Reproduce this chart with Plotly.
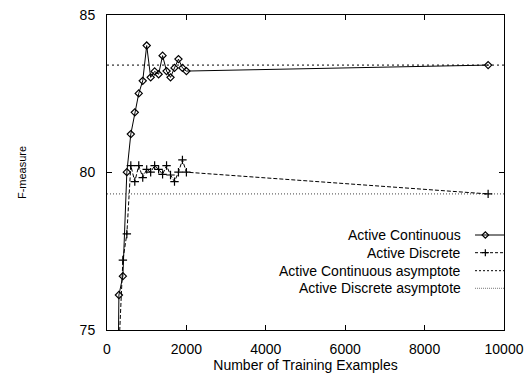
import plotly.graph_objects as go

# ---- data ----
cont_x = [200, 300, 400, 500, 600, 700, 800, 900, 1000, 1100, 1200, 1300, 1400,
          1500, 1600, 1700, 1800, 1900, 2000, 9600]
cont_y = [65.0, 76.11, 76.71, 80.01, 81.22, 81.91, 82.51, 82.91, 84.03, 83.02, 83.21,
          83.12, 83.71, 83.22, 83.02, 83.32, 83.60, 83.32, 83.22, 83.41]

disc_x = [300, 400, 500, 600, 700, 800, 900, 1000, 1100, 1200, 1300, 1400,
          1500, 1600, 1700, 1800, 1900, 2000, 9600]
disc_y = [74.4, 77.22, 78.05, 80.22, 79.71, 80.22, 79.84, 80.10, 80.01, 80.22, 80.10,
          79.94, 80.22, 79.92, 79.71, 80.01, 80.40, 80.01, 79.32]

asym_x = [0, 10000]
cont_asym = 83.41
disc_asym = 79.32

legend_labels = ["Active Continuous", "Active Discrete",
                 "Active Continuous asymptote", "Active Discrete asymptote"]

x_ticks = [0, 2000, 4000, 6000, 8000, 10000]
y_ticks = [75, 80, 85]

FONT = "Liberation Sans, Arial, Helvetica, sans-serif"

fig = go.Figure()

fig.add_trace(go.Scatter(x=asym_x, y=[cont_asym] * 2, mode="lines",
                         line=dict(color="black", width=1, dash="2px,3px"),
                         showlegend=False, hoverinfo="skip"))
fig.add_trace(go.Scatter(x=asym_x, y=[disc_asym] * 2, mode="lines",
                         line=dict(color="#444", width=1, dash="1px,2px"),
                         showlegend=False, hoverinfo="skip"))
fig.add_trace(go.Scatter(x=cont_x, y=cont_y, mode="lines+markers",
                         line=dict(color="black", width=1),
                         marker=dict(symbol="diamond-open", size=5.5, color="black",
                                     line=dict(width=1.2, color="black")),
                         showlegend=False))
fig.add_trace(go.Scatter(x=disc_x, y=disc_y, mode="lines+markers",
                         line=dict(color="black", width=1, dash="4px,2px"),
                         marker=dict(symbol="cross-thin-open", size=6, color="black",
                                     line=dict(width=1.2, color="black")),
                         showlegend=False))

# ---- manual gnuplot-style legend (text left, sample right) ----
rows_y = [0.3016, 0.2454, 0.1883, 0.1324]
styles = [
    dict(color="black", width=1),
    dict(color="black", width=1, dash="3px,2px"),
    dict(color="black", width=1, dash="2px,2px"),
    dict(color="#777", width=1, dash="1px,1px"),
]
markers = [
    dict(symbol="diamond-open", size=5, color="black", line=dict(width=1.2, color="black")),
    dict(symbol="cross-thin-open", size=5, color="black", line=dict(width=1.2, color="black")),
    None, None,
]
for lab, ry, st, mk in zip(legend_labels, rows_y, styles, markers):
    fig.add_annotation(x=0.897, y=ry, xref="paper", yref="paper", text=lab,
                       showarrow=False, xanchor="right", yanchor="middle",
                       font=dict(family=FONT, size=14, color="black"))
    fig.add_trace(go.Scatter(x=[0.927, 1.0], y=[ry, ry], mode="lines", line=st,
                             xaxis="x2", yaxis="y2", showlegend=False,
                             hoverinfo="skip", cliponaxis=False))
    if mk is not None:
        fig.add_trace(go.Scatter(x=[0.953], y=[ry], mode="markers", marker=mk,
                                 xaxis="x2", yaxis="y2", showlegend=False,
                                 hoverinfo="skip", cliponaxis=False))

axis_common = dict(showline=True, linecolor="black", linewidth=1, mirror="ticks",
                   ticks="inside", ticklen=5, tickcolor="black", tickwidth=1,
                   showgrid=False, zeroline=False, automargin=False,
                   tickfont=dict(family=FONT, size=14, color="black"))

fig.update_layout(
    width=532, height=378,
    margin=dict(l=107, r=28, t=15, b=48),
    paper_bgcolor="white", plot_bgcolor="white",
    font=dict(family=FONT, size=14, color="black"),
    showlegend=False,
    xaxis=dict(range=[0, 10000], tickvals=x_ticks, ticktext=[str(v) for v in x_ticks],
               title=dict(text="Number of Training Examples", standoff=4,
                          font=dict(family=FONT, size=14, color="black")),
               ticklabelstandoff=6, **axis_common),
    yaxis=dict(range=[75, 85], tickvals=y_ticks, ticktext=[str(v) for v in y_ticks],
               title=dict(text="F-measure", standoff=50,
                          font=dict(family=FONT, size=11, color="black")),
               ticklabelstandoff=8, **axis_common),
    xaxis2=dict(range=[0, 1], overlaying="x", visible=False, fixedrange=True),
    yaxis2=dict(range=[0, 1], overlaying="y", visible=False, fixedrange=True),
)

fig.write_html("out.html")
